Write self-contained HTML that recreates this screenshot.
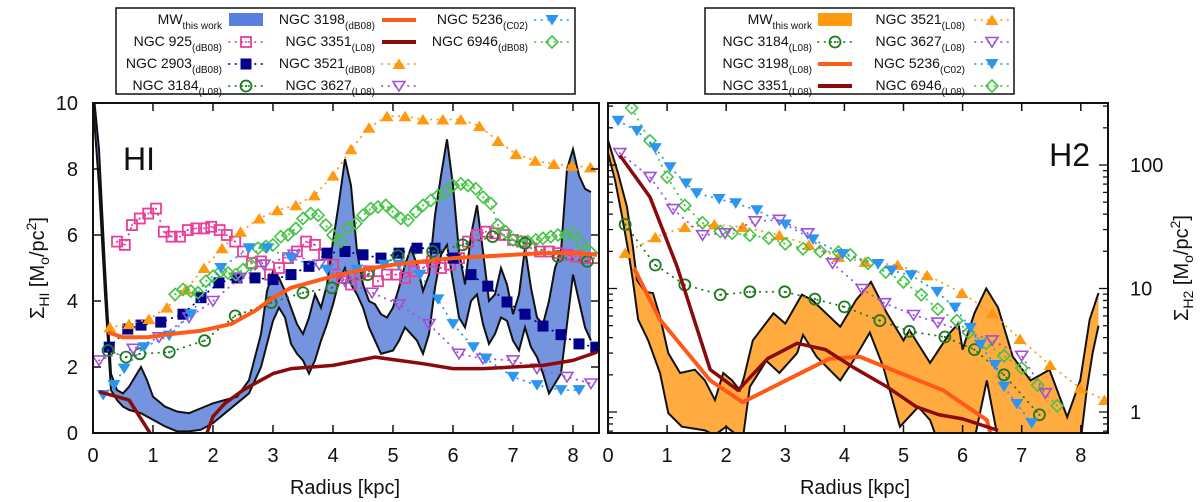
<!DOCTYPE html>
<html><head><meta charset="utf-8"><style>
html,body{margin:0;padding:0;background:#fff;}
svg{display:block;font-family:"Liberation Sans",sans-serif;}
</style></head><body>
<svg id="c" width="1200" height="502" viewBox="0 0 1200 502" xmlns="http://www.w3.org/2000/svg">
<defs>
<clipPath id="clipL"><rect x="93" y="103" width="506" height="330"/></clipPath>
<clipPath id="clipR"><rect x="608" y="103" width="500" height="330"/></clipPath>
</defs>
<g id="gL" clip-path="url(#clipL)"></g>
<g id="gR" clip-path="url(#clipR)"></g>
<g id="axes"></g>
<g id="leg"></g>
</svg>
<script>
// ---------- HI panel data ----------
const hiUpR=[0,0.1,0.2,0.3,0.4,0.5,0.6,0.7,0.8,0.9,1.0,1.2,1.4,1.6,1.8,2.0,2.2,2.4,2.6,2.8,2.9,3.0,3.1,3.2,3.3,3.4,3.5,3.6,3.7,3.8,3.9,4.0,4.1,4.2,4.3,4.4,4.5,4.6,4.7,4.8,4.9,5.0,5.1,5.2,5.3,5.4,5.5,5.6,5.7,5.8,5.9,6.0,6.1,6.2,6.3,6.4,6.5,6.6,6.7,6.8,6.9,7.0,7.1,7.2,7.3,7.4,7.5,7.6,7.7,7.8,7.9,8.0,8.1,8.2,8.3];
const hiUpV=[10.5,8.6,5,1.8,1.3,1.2,1.4,1.7,2.0,1.6,1.1,0.8,0.65,0.6,0.75,0.9,1.0,1.1,1.6,3.0,4.3,4.9,4.7,4.3,3.8,3.3,3.0,3.5,4.2,3.8,4.5,5.8,7.0,8.3,7.5,5.5,4.5,4.0,3.9,3.6,3.5,3.8,4.4,5.1,5.6,5.1,4.3,4.8,6.6,7.8,8.9,7.5,5.5,4.5,6.0,6.9,5.5,4.0,4.2,5.0,4.5,3.6,4.2,5.6,4.4,3.5,3.3,4.0,5.0,5.5,8.0,8.6,7.8,7.4,7.3];
const hiLoR=[0,0.1,0.2,0.3,0.4,0.5,0.6,0.8,1.0,1.2,1.4,1.6,1.8,2.0,2.2,2.4,2.6,2.8,3.0,3.1,3.2,3.3,3.4,3.5,3.6,3.7,3.8,3.9,4.0,4.1,4.2,4.3,4.4,4.5,4.6,4.7,4.8,5.0,5.1,5.2,5.4,5.5,5.6,5.7,5.8,5.9,6.0,6.1,6.2,6.3,6.4,6.5,6.6,6.7,6.8,6.9,7.0,7.1,7.2,7.3,7.4,7.5,7.6,7.7,7.8,7.9,8.0,8.1,8.2,8.3];
const hiLoV=[10,7.5,4.2,1.3,1.0,0.8,0.7,0.6,0.4,0.2,0.05,0.05,0.1,0.3,0.6,0.9,1.2,2.0,3.4,3.8,3.5,2.7,2.4,2.2,1.8,2.2,2.8,3.3,3.9,4.6,5.0,4.5,4.2,3.8,3.2,2.8,2.4,2.5,2.8,3.2,2.8,2.4,3.0,4.4,5.4,5.7,4.6,3.5,3.2,4.0,4.2,3.3,2.7,3.0,3.5,3.4,2.8,2.5,3.2,2.6,2.3,1.8,1.2,1.5,1.8,3.3,4.8,4.0,3.2,2.8];

const n925R=[0.4,0.53,0.65,0.78,0.92,1.05,1.18,1.31,1.45,1.58,1.72,1.85,1.97,2.11,2.23,2.37,2.5,2.65,2.8,2.95,3.1,3.25,3.4,3.55,3.7,3.85,4.0,4.15,4.3,4.45,4.6,4.75,4.9,5.05,5.2,5.35,5.5,5.65,5.8,5.95,6.1,6.25,6.4,6.55,6.7,6.85,7.0,7.15,7.3,7.45,7.6,7.75,7.9,8.05,8.2,8.35];
const n925V=[5.8,5.7,6.3,6.5,6.65,6.8,6.1,5.95,5.95,6.15,6.2,6.2,6.25,6.15,6.0,5.8,5.5,5.15,5.2,4.8,5.0,5.3,5.5,5.8,5.7,5.4,5.1,4.7,4.5,4.8,4.9,4.6,4.8,4.8,4.7,4.9,5.0,5.2,5.0,5.1,5.3,5.8,6.0,6.1,6.05,6.0,5.85,5.8,5.6,5.5,5.5,5.45,5.4,5.35,5.3,5.3];
const n2903R=[0.27,0.58,0.8,1.13,1.5,1.8,2.1,2.4,2.7,3.0,3.3,3.6,3.9,4.2,4.5,4.8,5.1,5.4,5.7,6.0,6.3,6.58,6.9,7.2,7.5,7.8,8.1,8.38];
const n2903V=[2.6,3.15,3.27,3.36,3.6,4.1,4.55,4.7,4.7,4.65,4.8,5.05,5.45,5.5,5.4,5.3,5.45,5.6,5.6,5.3,4.8,4.45,3.97,3.6,3.24,2.98,2.7,2.6];
const n3521R=[0.28,0.6,0.93,1.23,1.55,1.85,2.15,2.46,2.77,3.07,3.38,3.69,4.0,4.3,4.6,4.9,5.2,5.5,5.83,6.13,6.44,6.75,7.05,7.37,7.68,7.98,8.29];
const n3521V=[3.2,3.3,3.45,3.8,4.35,5.0,5.6,6.1,6.5,6.75,6.9,7.2,7.8,8.6,9.25,9.6,9.6,9.5,9.5,9.5,9.3,8.85,8.45,8.25,8.15,8.1,8.05];
const n6946R=[1.37,1.5,1.63,1.75,1.88,2.0,2.13,2.25,2.38,2.5,2.63,2.75,2.88,3.0,3.13,3.25,3.38,3.5,3.63,3.75,3.88,4.0,4.13,4.25,4.38,4.5,4.63,4.75,4.88,5.0,5.13,5.25,5.38,5.5,5.63,5.75,5.88,6.0,6.13,6.25,6.38,6.5,6.63,6.75,6.88,7.0,7.13,7.25,7.38,7.5,7.63,7.75,7.88,8.0,8.13,8.28];
const n6946V=[4.2,4.35,4.3,4.25,4.6,4.75,4.9,4.85,4.8,4.95,5.1,5.6,5.65,5.7,5.95,6.0,6.2,6.5,6.65,6.6,6.3,6.0,5.8,6.2,6.35,6.6,6.8,6.85,6.9,6.7,6.5,6.45,6.7,6.9,7.05,7.2,7.3,7.5,7.55,7.5,7.4,7.15,6.95,6.3,6.1,5.85,5.8,5.8,5.85,5.9,5.95,6.0,6.0,6.05,5.75,5.5];
const n3184R=[0.25,0.55,0.78,1.27,1.86,2.37,2.97,3.5,3.98,4.58,5.08,5.66,6.16,6.66,7.2,7.75,8.24];
const n3184V=[2.5,2.3,2.4,2.45,2.8,3.55,3.95,4.25,4.4,4.8,5.37,5.5,5.7,5.95,5.75,5.35,5.2];
const n3627R=[0.1,0.67,1.1,1.6,2.0,2.45,2.85,3.35,3.77,4.2,4.65,5.1,5.6,6.1,6.5,7.0,7.4,7.9,8.3];
const n3627V=[2.2,2.55,2.9,3.5,4.0,4.7,5.1,5.4,5.1,4.6,4.25,3.9,3.3,2.4,2.25,2.2,1.95,1.7,1.5];
const n5236R=[0.17,0.35,0.52,0.85,1.27,1.63,2.13,2.6,2.9,3.3,3.9,4.4,4.85,5.1,5.45,5.75,6.0,6.34,6.55,7.0,7.4,7.8,8.1];
const n5236V=[1.15,1.45,1.95,2.6,2.95,3.6,5.0,5.6,5.6,5.3,4.95,4.95,5.1,5.1,4.8,4.05,3.3,2.6,2.25,1.7,1.45,1.3,1.3];
const n3198R=[0.25,0.5,0.9,1.3,1.8,2.3,2.7,3.0,3.3,3.7,4.0,4.5,5.0,5.5,6.0,6.5,7.0,7.5,8.0,8.4];
const n3198V=[3.05,2.9,2.9,3.0,3.1,3.3,3.7,4.1,4.4,4.6,4.75,4.95,5.1,5.2,5.3,5.35,5.4,5.45,5.45,5.4];
const n3351R=[0.1,0.6,0.95,1.2,1.7,1.9,2.0,2.2,2.5,2.8,3.0,3.3,4.0,4.7,5.5,6.0,6.5,7.5,8.0,8.4];
const n3351V=[1.25,1.0,0.0,-0.6,-0.6,0.0,0.5,0.9,1.3,1.6,1.8,1.95,2.05,2.3,2.1,1.95,1.95,2.05,2.2,2.45];

// ---------- H2 panel data ----------
const h2UpR=[0,0.17,0.32,0.42,0.49,0.63,0.76,0.88,1.02,1.22,1.47,1.64,1.81,1.95,2.1,2.23,2.3,2.45,2.8,3.0,3.28,3.45,3.93,4.2,4.45,4.72,5.0,5.1,5.45,5.79,5.93,6.0,6.2,6.4,6.6,6.85,7.15,7.47,7.77,7.99,8.15,8.3];
const h2UpV=[159,86,46,22,11.7,9.4,9.2,5.9,3.0,2.07,2.2,1.8,1.25,2.07,1.8,1.5,1.9,3.8,6.3,5.2,8.9,8.1,4.9,8.1,11.3,6.3,3.8,4.6,2.5,4.4,5.2,3.2,6.3,10,7,2.8,1.8,2.2,0.91,1.8,5.6,9.2];
const h2LoR=[0,0.12,0.24,0.34,0.42,0.51,0.68,0.88,1.02,1.25,1.64,1.8,2.0,2.28,2.4,2.68,2.9,3.2,3.3,3.53,3.93,4.15,4.43,4.66,4.94,5.25,5.45,5.57,6.2,6.41,6.6,7.0,7.5,8.0,8.1,8.2,8.3];
const h2LoV=[125,75,38,20.5,11.7,5.6,3.8,2.07,0.98,0.76,0.71,0.65,0.76,0.6,1.6,2.6,2.07,3.0,4.2,2.8,1.8,2.6,4.4,2.3,0.76,1.1,0.86,0.6,0.6,1.8,0.6,0.6,0.6,0.6,1.5,3,5];
const m5236R=[0.17,0.49,0.8,1.05,1.32,1.5,1.88,2.16,2.52,3.0,3.47,3.97,4.57,4.8,5.13,5.57,5.87,6.13,6.3,6.55,6.7,6.92,7.17];
const m5236V=[228,189,137,96,71,59,53,49,43,33,25,19,15.8,14,12.8,9.4,7,4.8,3.5,2.4,1.6,1.16,0.81];
const m3627R=[0.2,0.71,1.1,1.6,1.98,2.49,2.9,3.38,3.8,4.3,4.68,5.17,5.58,6.5,7.0,7.4];
const m3627V=[125,80,44,27,28,35,36,28,16,9.9,7.6,6.1,5.3,3.8,2.85,1.42];
const m6946R=[0.4,0.71,1.0,1.3,1.6,1.9,2.1,2.4,2.72,3.0,3.3,3.59,3.9,4.1,4.4,4.7,5.0,5.3,5.58,5.9,6.1,6.4,6.7,7.0,7.27,7.6];
const m6946V=[290,157,80,47,34,29,28,27,25.6,23,21,20,19.7,18.7,16,13.6,11.3,8.9,6.8,5.5,4.4,3.6,2.85,2.27,1.65,1.12];
const m3521R=[0.29,0.8,1.3,1.8,2.28,2.9,3.4,3.9,4.35,4.9,5.4,5.99,6.5,6.97,7.48,7.99,8.4];
const m3521V=[19.4,26,31.5,33,31.5,27,22.5,18,16.4,15.5,12.8,9.2,6.3,3.9,2.4,1.56,1.25];
const m3184R=[0.29,0.8,1.3,1.9,2.4,2.99,3.5,4.0,4.6,5.1,5.7,6.2,6.7,7.3];
const m3184V=[33,15.5,10.7,8.9,9.4,9.4,8.2,7.1,5.5,4.5,4.05,3.2,2.0,0.95];
const m3198R=[0.44,0.88,1.73,2.28,3.2,3.75,4.26,4.94,5.67,6.41,6.5];
const m3198V=[14.6,5.6,1.8,1.2,2.0,2.7,2.8,2.07,1.5,0.86,0.6];
const m3351R=[0.2,0.71,1.17,1.73,2.2,2.7,3.2,3.68,4.15,4.72,5.22,5.6,6.0,6.6];
const m3351V=[120,55,15,2.2,1.5,2.7,3.6,3.2,2.3,1.6,1.1,0.95,0.88,0.71];

const xTicks=[0,1,2,3,4,5,6,7,8];
const hiYTicks=[0,2,4,6,8,10];
const h2YTicks=[1,10,100];

// ---------- scales ----------
const xL=r=>93+60*r, yL=v=>433-33*v;
const xR=r=>608+59.1*r, yR=v=>412-123.5*Math.log10(v);
const NS='http://www.w3.org/2000/svg';
function mk(tag,attrs,parent){const e=document.createElementNS(NS,tag);for(const k in attrs)e.setAttribute(k,attrs[k]);parent.appendChild(e);return e;}
const gL=document.getElementById('gL'),gR=document.getElementById('gR'),ax=document.getElementById('axes'),lg=document.getElementById('leg');

function band(g,uR,uV,lR,lV,X,Y,fill,name){
  let d='M'+uR.map((r,i)=>X(r).toFixed(1)+','+Y(uV[i]).toFixed(1)).join('L');
  for(let i=lR.length-1;i>=0;i--)d+='L'+X(lR[i]).toFixed(1)+','+Y(lV[i]).toFixed(1);
  d+='Z';
  const p=mk('path',{d:d,fill:fill,stroke:'none'},g);
  
  
  const u=mk('path',{d:'M'+uR.map((r,i)=>X(r)+','+Y(uV[i])).join('L'),fill:'none',stroke:'#111','stroke-width':2},g);
  
  
  const l=mk('path',{d:'M'+lR.map((r,i)=>X(r)+','+Y(lV[i])).join('L'),fill:'none',stroke:'#111','stroke-width':2},g);
  
  
}
function line(g,R,V,X,Y,col,w,name,dash){
  const a={d:'M'+R.map((r,i)=>X(r)+','+Y(V[i])).join('L'),fill:'none',stroke:col,'stroke-width':w,'stroke-linejoin':'round'};
  if(dash){a['stroke-dasharray']=dash;a['stroke-linecap']='round';}
  const p=mk('path',a,g);
  
  
}
function marker(g,type,x,y,col){
  let e;
  if(type==='sqo')e=mk('g',{},g),mk('rect',{x:x-5,y:y-5,width:10,height:10,fill:'none',stroke:col,'stroke-width':1.8},e),mk('circle',{cx:x,cy:y,r:1,fill:col},e);
  else if(type==='sqf')e=mk('rect',{x:x-5.5,y:y-5.5,width:11,height:11,fill:col},g);
  else if(type==='tri')e=mk('polygon',{points:`${x},${y-5.5} ${x+6.5},${y+5} ${x-6.5},${y+5}`,fill:col},g);
  else if(type==='dtf')e=mk('polygon',{points:`${x-6.5},${y-5} ${x+6.5},${y-5} ${x},${y+5.5}`,fill:col},g);
  else if(type==='dto')e=mk('polygon',{points:`${x-6},${y-4.5} ${x+6},${y-4.5} ${x},${y+5}`,fill:'none',stroke:col,'stroke-width':1.6},g);
  else if(type==='dia')e=mk('polygon',{points:`${x},${y-6} ${x+6},${y} ${x},${y+6} ${x-6},${y}`,fill:'none',stroke:col,'stroke-width':1.6},g);
  else if(type==='cir')e=mk('g',{},g),mk('circle',{cx:x,cy:y,r:5.5,fill:'none',stroke:col,'stroke-width':1.8},e),mk('circle',{cx:x,cy:y,r:1.1,fill:col},e);
  return e;
}
function series(g,R,V,X,Y,col,type,name){
  line(g,R,V,X,Y,col,1.8,name+'-dotted-line','0.5 6');
  R.forEach((r,i)=>{const m=marker(g,type,X(r),Y(V[i]),col);
    
    });
}
const C={pink:'#e8409a',navy:'#00008b',orange:'#ff9a10',green:'#44c444',dgreen:'#1e7a1e',purple:'#a050d8',blue:'#2b95f0',red:'#ff5a1a',dred:'#8b0a0a'};

// HI panel
band(gL,hiUpR,hiUpV,hiLoR,hiLoV,xL,yL,'#7594e0','mw-hi-band');
series(gL,n925R,n925V,xL,yL,C.pink,'sqo','ngc925');
series(gL,n2903R,n2903V,xL,yL,C.navy,'sqf','ngc2903');
series(gL,n3521R,n3521V,xL,yL,C.orange,'tri','ngc3521');
series(gL,n6946R,n6946V,xL,yL,C.green,'dia','ngc6946');
series(gL,n3184R,n3184V,xL,yL,C.dgreen,'cir','ngc3184');
series(gL,n3627R,n3627V,xL,yL,C.purple,'dto','ngc3627');
series(gL,n5236R,n5236V,xL,yL,C.blue,'dtf','ngc5236');
line(gL,n3198R,n3198V,xL,yL,C.red,4,'ngc3198-line');
line(gL,n3351R,n3351V,xL,yL,C.dred,3.5,'ngc3351-line');
// H2 panel
band(gR,h2UpR,h2UpV,h2LoR,h2LoV,xR,yR,'#ffab40','mw-h2-band');
series(gR,m3521R,m3521V,xR,yR,C.orange,'tri','ngc3521-h2');
series(gR,m6946R,m6946V,xR,yR,C.green,'dia','ngc6946-h2');
series(gR,m3184R,m3184V,xR,yR,C.dgreen,'cir','ngc3184-h2');
series(gR,m3627R,m3627V,xR,yR,C.purple,'dto','ngc3627-h2');
series(gR,m5236R,m5236V,xR,yR,C.blue,'dtf','ngc5236-h2');
line(gR,m3198R,m3198V,xR,yR,C.red,4,'ngc3198-h2-line');
line(gR,m3351R,m3351V,xR,yR,C.dred,3.5,'ngc3351-h2-line');

// ---------- axes ----------
function txt(x,y,s,size,anchor,name,parent){const t=mk('text',{x:x,y:y,'font-size':size,'text-anchor':anchor||'middle',fill:'#111'},parent||ax);t.textContent=s;return t;}
function frame(x0,x1,name){const r=mk('rect',{x:x0,y:103,width:x1-x0,height:330,fill:'none',stroke:'#111','stroke-width':2},ax);}
frame(93,599,'hi-panel-frame');frame(608,1108,'h2-panel-frame');
xTicks.forEach(t=>{
  [[xL,'hi'],[xR,'h2']].forEach(([X,p])=>{const x=X(t);
    mk('line',{x1:x,y1:433,x2:x,y2:425,stroke:'#111','stroke-width':1.5},ax);
    mk('line',{x1:x,y1:103,x2:x,y2:111,stroke:'#111','stroke-width':1.5},ax);
    txt(x,462,String(t),20,'middle',p+'-x-tick-label');});
});
hiYTicks.forEach(t=>{const y=yL(t);
  mk('line',{x1:93,y1:y,x2:101,y2:y,stroke:'#111','stroke-width':1.5},ax);
  mk('line',{x1:599,y1:y,x2:591,y2:y,stroke:'#111','stroke-width':1.5},ax);
  txt(78,y+7,String(t),20,'end','hi-y-tick-label');});
for(let d=0.1;d<=1000;d*=10){for(let k=1;k<10;k++){const v=d*k,y=yR(v);if(y<103||y>433)continue;const L=k===1?9:5;
  mk('line',{x1:608,y1:y,x2:608+L,y2:y,stroke:'#111','stroke-width':1.3},ax);
  mk('line',{x1:1108,y1:y,x2:1108-L,y2:y,stroke:'#111','stroke-width':1.3},ax);}}
h2YTicks.forEach(t=>txt(1130,yR(t)+7,String(t),20,'start','h2-y-tick-label'));
txt(345,494,'Radius [kpc]',20,'middle','hi-x-axis-title');
txt(855,494,'Radius [kpc]',20,'middle','h2-x-axis-title');
const yt=mk('text',{x:0,y:0,'font-size':20,'text-anchor':'middle',fill:'#111',transform:'translate(44,268) rotate(-90)'},ax);

yt.innerHTML='Σ<tspan font-size="14" dy="5">HI</tspan><tspan dy="-5"> [M</tspan><tspan font-size="14" dy="5">o</tspan><tspan dy="-5">/pc</tspan><tspan font-size="14" dy="-8">2</tspan><tspan dy="8">]</tspan>';
const yt2=mk('text',{x:0,y:0,'font-size':20,'text-anchor':'middle',fill:'#111',transform:'translate(1188,268) rotate(-90)'},ax);

yt2.innerHTML='Σ<tspan font-size="14" dy="5">H2</tspan><tspan dy="-5"> [M</tspan><tspan font-size="14" dy="5">o</tspan><tspan dy="-5">/pc</tspan><tspan font-size="14" dy="-8">2</tspan><tspan dy="8">]</tspan>';
txt(123,170,'HI',32,'start','hi-panel-label');
txt(1090,166,'H2',32,'end','h2-panel-label');

// ---------- legends ----------
function legBox(x0,x1,name){const r=mk('rect',{x:x0,y:8,width:x1-x0,height:86,fill:'#fff',stroke:'#111','stroke-width':1.5},lg);}
legBox(116,575,'hi-legend');legBox(705,1014,'h2-legend');
const rowsY=[20,42,64,86];
function entry(tx,sx,row,main,sub,kind,col,name){
  const y=rowsY[row];const g=mk('g',{},lg);
  
  const t=mk('text',{x:tx,y:y+4,'font-size':14,'text-anchor':'end',fill:'#111'},g);
  t.innerHTML=main+'<tspan font-size="10" dy="5">'+sub+'</tspan>';
  if(kind==='box')mk('rect',{x:sx-17,y:y-7,width:34,height:13,fill:col},g);
  else if(kind==='line')mk('line',{x1:sx-17,y1:y,x2:sx+17,y2:y,stroke:col,'stroke-width':4},g);
  else{mk('line',{x1:sx-17,y1:y,x2:sx+17,y2:y,stroke:col,'stroke-width':1.8,'stroke-dasharray':'0.5 6','stroke-linecap':'round'},g);marker(g,kind,sx,y,col);}
}
entry(222,246,0,'MW','this work','box','#5b7fe0','legend-mw-hi');
entry(222,246,1,'NGC 925','(dB08)','sqo',C.pink,'legend-ngc925');
entry(222,246,2,'NGC 2903','(dB08)','sqf',C.navy,'legend-ngc2903');
entry(222,246,3,'NGC 3184','(L08)','cir',C.dgreen,'legend-ngc3184');
entry(375,399,0,'NGC 3198','(dB08)','line',C.red,'legend-ngc3198');
entry(375,399,1,'NGC 3351','(L08)','line',C.dred,'legend-ngc3351');
entry(375,399,2,'NGC 3521','(dB08)','tri',C.orange,'legend-ngc3521');
entry(375,399,3,'NGC 3627','(L08)','dto',C.purple,'legend-ngc3627');
entry(528,552,0,'NGC 5236','(C02)','dtf',C.blue,'legend-ngc5236');
entry(528,552,1,'NGC 6946','(dB08)','dia',C.green,'legend-ngc6946');
entry(812,835,0,'MW','this work','box','#ff9a10','legend-mw-h2');
entry(812,835,1,'NGC 3184','(L08)','cir',C.dgreen,'legend-ngc3184-h2');
entry(812,835,2,'NGC 3198','(L08)','line',C.red,'legend-ngc3198-h2');
entry(812,835,3,'NGC 3351','(L08)','line',C.dred,'legend-ngc3351-h2');
entry(965,992,0,'NGC 3521','(L08)','tri',C.orange,'legend-ngc3521-h2');
entry(965,992,1,'NGC 3627','(L08)','dto',C.purple,'legend-ngc3627-h2');
entry(965,992,2,'NGC 5236','(C02)','dtf',C.blue,'legend-ngc5236-h2');
entry(965,992,3,'NGC 6946','(L08)','dia',C.green,'legend-ngc6946-h2');
</script>
</body></html>
